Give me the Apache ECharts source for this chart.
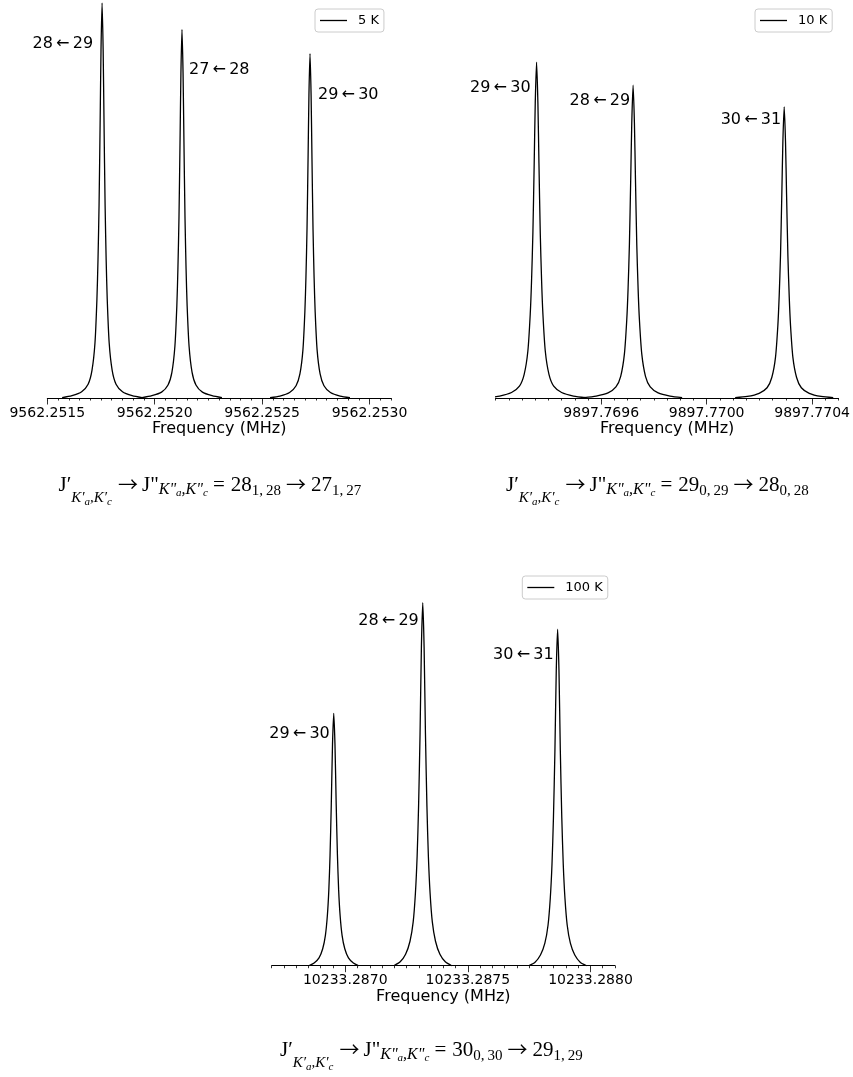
<!DOCTYPE html>
<html>
<head>
<meta charset="utf-8">
<title>rotational lines</title>
<style>
  html, body { margin: 0; padding: 0; background: #fff; }
  #chart { width: 853px; height: 1077px; }
</style>
</head>
<body>
<div id="chart"></div>
<script src="https://cdn.jsdelivr.net/npm/echarts@6.0.0/dist/echarts.min.js"></script>
<script>
// offsets from the line centre, in Hz
const offsetsCold = [-186, -140, -95, -65, -47, -33, -24, -19, -14, -9, -5, 0, 5, 9, 14, 19, 24, 33, 47, 65, 95, 140, 186];
const offsetsWarmA = [-102, -80, -60, -45, -34, -26, -20, -15, -10, -5, 0, 5, 10, 15, 20, 26, 34, 45, 60, 80, 102];
const offsetsWarmB = [-118, -92, -70, -52, -39, -30, -23, -17, -11, -5.5, 0, 5.5, 11, 17, 23, 30, 39, 52, 70, 92, 118];

// 5 K
const centres5K = [9562.251755, 9562.252127, 9562.252723];
const labels5K = ['28\u2009←\u200929', '27\u2009←\u200928', '29\u2009←\u200930'];
const peak5K_a = [0.001, 0.006, 0.016, 0.035, 0.07, 0.14, 0.25, 0.35, 0.49, 0.70, 0.88, 1.0, 0.88, 0.70, 0.49, 0.35, 0.25, 0.14, 0.07, 0.035, 0.016, 0.006, 0.001];
const peak5K_b = [0.001, 0.006, 0.015, 0.033, 0.065, 0.131, 0.233, 0.327, 0.457, 0.653, 0.821, 0.933, 0.821, 0.653, 0.457, 0.327, 0.233, 0.131, 0.065, 0.033, 0.015, 0.006, 0.001];
const peak5K_c = [0.001, 0.005, 0.014, 0.031, 0.061, 0.122, 0.218, 0.305, 0.427, 0.610, 0.767, 0.872, 0.767, 0.610, 0.427, 0.305, 0.218, 0.122, 0.061, 0.031, 0.014, 0.005, 0.001];
const ticks5K = [9562.2515, 9562.2520, 9562.2525, 9562.2530];

// 10 K
const centres10K = [9897.769355, 9897.769721, 9897.770294];
const labels10K = ['29\u2009←\u200930', '28\u2009←\u200929', '30\u2009←\u200931'];
const peak10K_a = [0.001, 0.005, 0.014, 0.030, 0.060, 0.119, 0.213, 0.298, 0.417, 0.595, 0.748, 0.85, 0.748, 0.595, 0.417, 0.298, 0.213, 0.119, 0.060, 0.030, 0.014, 0.005, 0.001];
const peak10K_b = [0.001, 0.005, 0.013, 0.028, 0.055, 0.111, 0.198, 0.277, 0.388, 0.554, 0.697, 0.792, 0.697, 0.554, 0.388, 0.277, 0.198, 0.111, 0.055, 0.028, 0.013, 0.005, 0.001];
const peak10K_c = [0.001, 0.004, 0.012, 0.026, 0.052, 0.103, 0.184, 0.258, 0.361, 0.516, 0.649, 0.737, 0.649, 0.516, 0.361, 0.258, 0.184, 0.103, 0.052, 0.026, 0.012, 0.004, 0.001];
const ticks10K = [9897.7696, 9897.7700, 9897.7704];

// 100 K
const centres100K = [10233.286953, 10233.287316, 10233.287866];
const labels100K = ['29\u2009←\u200930', '28\u2009←\u200929', '30\u2009←\u200931'];
const peak100K_a = [0, 0.007, 0.020, 0.043, 0.077, 0.127, 0.192, 0.281, 0.409, 0.561, 0.639, 0.561, 0.409, 0.281, 0.192, 0.127, 0.077, 0.043, 0.020, 0.007, 0];
const peak100K_b = [0, 0.010, 0.029, 0.062, 0.111, 0.183, 0.276, 0.404, 0.588, 0.807, 0.919, 0.807, 0.588, 0.404, 0.276, 0.183, 0.111, 0.062, 0.029, 0.010, 0];
const peak100K_c = [0, 0.009, 0.027, 0.057, 0.103, 0.170, 0.256, 0.375, 0.545, 0.748, 0.852, 0.748, 0.545, 0.375, 0.256, 0.170, 0.103, 0.057, 0.027, 0.009, 0];
const ticks100K = [10233.2870, 10233.2875, 10233.2880];

// caption pieces: [text, style] or a number (horizontal gap in px)
// m = main, s1 = deep subscript, a1 = its sub-subscript, s2 = subscript of J", a2 = its sub-subscript, n = numeric subscript
const captionHead = [
  ['J′', 'm'], ['K′', 's1'], ['a', 'a1'], [',', 's1'], ['K′', 's1'], ['c', 'a1'],
  6, ['→', 'arrow'], 4, ['J"', 'm'], ['K"', 's2'], ['a', 'a2'], [',', 's2'], ['K"', 's2'], ['c', 'a2'], 5, ['=', 'm'], 6
];
const captionTails = [
  [['28', 'm'], ['1,\u200928', 'n'], 5, ['→', 'arrow'], 5, ['27', 'm'], ['1,\u200927', 'n']],
  [['29', 'm'], ['0,\u200929', 'n'], 5, ['→', 'arrow'], 5, ['28', 'm'], ['0,\u200928', 'n']],
  [['30', 'm'], ['0,\u200930', 'n'], 5, ['→', 'arrow'], 5, ['29', 'm'], ['1,\u200929', 'n']]
];

const SANS = 'DejaVu Sans';
const SERIF = 'Liberation Serif';

const panels = [
  {
    name: '5 K', grid: {left: 47.3, top: 3, width: 343.7, height: 397},
    min: 9562.2515, max: 9562.2531, majors: ticks5K,
    centres: centres5K, profiles: [peak5K_a, peak5K_b, peak5K_c],
    offsets: [offsetsCold, offsetsCold, offsetsCold], labels: labels5K,
    place: [['left', 9, 41], ['right', 7, 40], ['right', 8, 41]],
    legend: {left: 315, top: 9}, caption: {left: 58.5, base: 492.5}
  },
  {
    name: '10 K', grid: {left: 495.7, top: 3, width: 343.6, height: 397},
    min: 9897.7692, max: 9897.7705, majors: ticks10K,
    centres: centres10K, profiles: [peak10K_a, peak10K_b, peak10K_c],
    offsets: [offsetsCold, offsetsCold, offsetsCold], labels: labels10K,
    place: [['left', 6, 26], ['left', 3, 15.5], ['left', 3, 13]],
    legend: {left: 755, top: 9}, caption: {left: 506, base: 492.5}
  },
  {
    name: '100 K', grid: {left: 271.7, top: 570.7, width: 343.3, height: 397},
    min: 10233.2867, max: 10233.2881, majors: ticks100K,
    centres: centres100K, profiles: [peak100K_a, peak100K_b, peak100K_c],
    offsets: [offsetsWarmA, offsetsWarmB, offsetsWarmB], labels: labels100K,
    place: [['left', 4, 21], ['left', 4, 18], ['left', 4, 26]],
    legend: {left: 522.3, top: 576}, caption: {left: 280, base: 1057.5}
  }
];

// font size, italic, baseline shift (px, downwards), family
const pieceStyle = {
  m: [21, false, 0, SERIF],
  arrow: [20, false, -1, 'Noto Sans CJK JP'],
  s1: [15, true, 11, SERIF],
  a1: [11, true, 13.5, SERIF],
  s2: [16, true, 2.5, SERIF],
  a2: [11, true, 4.5, SERIF],
  n: [15, false, 3.5, SERIF]
};

const measureCtx = document.createElement('canvas').getContext('2d');
function pieceFont(st) {
  return (st[1] ? 'italic ' : '') + st[0] + 'px "' + st[3] + '"';
}

function captionGroup(left, base, pieces) {
  let x = 0;
  const children = [];
  pieces.forEach(piece => {
    if (typeof piece === 'number') { x += piece; return; }
    const st = pieceStyle[piece[1]];
    const font = pieceFont(st);
    measureCtx.font = font;
    children.push({
      type: 'text', x: x, y: st[2] - 0.34 * st[0],
      style: {text: piece[0], font: font, fill: '#000', align: 'left', verticalAlign: 'middle'}
    });
    x += measureCtx.measureText(piece[0]).width;
  });
  return {type: 'group', x: left, y: base, silent: true, children: children};
}

const grids = [], xAxes = [], yAxes = [], series = [], legends = [], graphics = [];

panels.forEach((p, i) => {
  grids.push(Object.assign({containLabel: false}, p.grid));
  const isMajor = v => p.majors.some(m => Math.abs(m - v) < 1e-7);
  // main axis: data scale, minor ticks every 0.00005 MHz
  xAxes.push({
    type: 'value', gridIndex: i, min: p.min, max: p.max, interval: 0.00005, position: 'bottom',
    axisLine: {show: true, lineStyle: {color: '#000', width: 1}},
    axisTick: {show: true, length: 2.5, lineStyle: {color: '#000', width: 0.8}},
    axisLabel: {
      show: true, margin: 6, fontSize: 14, fontFamily: SANS, color: '#000',
      formatter: v => isMajor(v) ? v.toFixed(4) : ''
    },
    splitLine: {show: false},
    name: 'Frequency (MHz)', nameLocation: 'middle', nameGap: 21,
    nameTextStyle: {fontSize: 16, fontFamily: SANS, color: '#000'}
  });
  // second axis, only for the longer major ticks
  xAxes.push({
    type: 'value', gridIndex: i, min: p.min, max: p.max, position: 'bottom',
    axisLine: {show: false},
    axisTick: {show: true, length: 4.5, customValues: p.majors, lineStyle: {color: '#000', width: 0.8}},
    axisLabel: {show: false},
    splitLine: {show: false}
  });
  yAxes.push({type: 'value', gridIndex: i, min: -0.005, max: 1.0, show: false});

  p.centres.forEach((c, k) => {
    const prof = p.profiles[k];
    const top = Math.max(...prof);
    const pl = p.place[k];
    series.push({
      type: 'line', name: p.name, xAxisIndex: i * 2, yAxisIndex: i,
      data: p.offsets[k].map((o, j) => [c + o * 1e-6, prof[j]]),
      symbol: 'none', smooth: 0.25, clip: true, silent: true, animation: false,
      lineStyle: {color: '#000', width: 1.3}, itemStyle: {color: '#000'},
      markPoint: {
        symbol: 'circle', symbolSize: 0, silent: true, animation: false,
        data: [{
          coord: [c, top],
          label: {
            show: true, formatter: p.labels[k], position: pl[0], distance: pl[1],
            offset: [0, pl[2]], fontSize: 16, fontFamily: SANS, color: '#000'
          }
        }]
      }
    });
  });

  legends.push({
    data: [p.name], left: p.legend.left, top: p.legend.top, orient: 'horizontal',
    icon: 'rect', itemWidth: 27, itemHeight: 1.3, padding: [5, 5, 5, 5], selectedMode: false,
    backgroundColor: '#fff', borderColor: '#cccccc', borderWidth: 1, borderRadius: 3,
    textStyle: {fontSize: 13, lineHeight: 13, fontFamily: SANS, color: '#000', padding: [0, 0, 0, 6]}
  });

  graphics.push(captionGroup(p.caption.left, p.caption.base, captionHead.concat(captionTails[i])));
});

const chart = echarts.init(document.getElementById('chart'), null, {renderer: 'canvas'});
chart.setOption({
  backgroundColor: '#fff',
  animation: false,
  grid: grids,
  xAxis: xAxes,
  yAxis: yAxes,
  legend: legends,
  series: series,
  graphic: graphics
});
</script>
</body>
</html>
